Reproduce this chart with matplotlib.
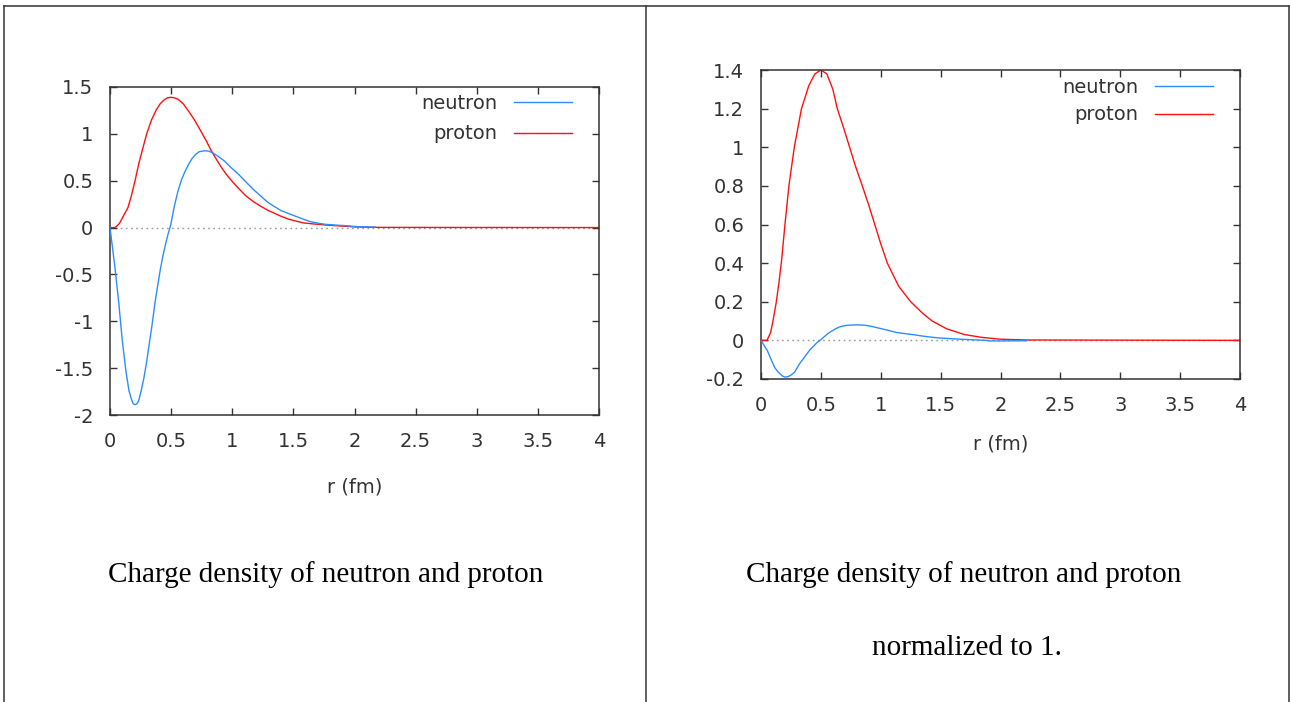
import matplotlib
matplotlib.use("Agg")
import matplotlib.pyplot as plt
from matplotlib.lines import Line2D

# ---- data ----
# left panel: charge density
r_n_left = [0, 0.04, 0.073, 0.1, 0.13, 0.155, 0.175, 0.19, 0.205, 0.22, 0.234,
            0.255, 0.278, 0.3, 0.32, 0.345, 0.366, 0.39, 0.41, 0.43, 0.454,
            0.475, 0.497, 0.525, 0.556, 0.585, 0.614, 0.645, 0.673, 0.7, 0.73,
            0.775, 0.81, 0.85, 0.89, 0.936, 0.99, 1.05, 1.11, 1.17, 1.23,
            1.29, 1.35, 1.40, 1.46, 1.52, 1.58, 1.64, 1.7, 1.76, 1.85,
            1.93, 2.02, 2.17]
rho_n_left = [0, -0.42, -0.82, -1.2, -1.53, -1.74, -1.83, -1.88, -1.89, -1.88, -1.85,
              -1.74, -1.6, -1.43, -1.25, -1.03, -0.82, -0.62, -0.46, -0.32, -0.18,
              -0.07, 0.03, 0.22, 0.39, 0.51, 0.6, 0.68, 0.74, 0.78, 0.81,
              0.82, 0.815, 0.79, 0.755, 0.71, 0.64, 0.57, 0.49, 0.41, 0.34,
              0.27, 0.22, 0.18, 0.15, 0.12, 0.09, 0.063, 0.047, 0.035, 0.026,
              0.02, 0.01, 0.005]

r_p_left = [0, 0.04, 0.06, 0.08, 0.1, 0.12, 0.146, 0.175, 0.205, 0.235, 0.263,
            0.3, 0.34, 0.38, 0.41, 0.44, 0.47, 0.497, 0.526, 0.556, 0.6,
            0.644, 0.69, 0.73, 0.755, 0.79, 0.82, 0.86, 0.907, 0.95, 0.995,
            1.05, 1.11, 1.17, 1.23, 1.29, 1.35, 1.4, 1.46, 1.52, 1.58,
            1.67, 1.76, 1.85, 1.93, 2.02, 2.22, 4.0]
rho_p_left = [0, 0.0, 0.02, 0.05, 0.1, 0.15, 0.21, 0.34, 0.5, 0.68, 0.82,
              1.0, 1.15, 1.26, 1.32, 1.36, 1.385, 1.39, 1.385, 1.37, 1.32,
              1.24, 1.15, 1.06, 1.0, 0.92, 0.84, 0.75, 0.65, 0.57, 0.5,
              0.42, 0.34, 0.28, 0.23, 0.185, 0.15, 0.12, 0.09, 0.07, 0.05,
              0.038, 0.028, 0.02, 0.013, 0.006, 0.002, 0]

# right panel: normalized to 1
r_n_right = [0, 0.054, 0.085, 0.114, 0.14, 0.16, 0.18, 0.2, 0.225, 0.25, 0.28,
             0.323, 0.35, 0.383, 0.41, 0.442, 0.47, 0.502, 0.53, 0.56, 0.59,
             0.62, 0.65, 0.68, 0.71, 0.74, 0.8, 0.86, 0.92, 0.98, 1.05,
             1.13, 1.2, 1.28, 1.35, 1.43, 1.5, 1.58, 1.67, 1.76, 1.82,
             1.88, 1.91, 2.0, 2.22]
rho_n_right = [0, -0.054, -0.1, -0.14, -0.162, -0.174, -0.185, -0.19, -0.188, -0.18, -0.165,
               -0.12, -0.098, -0.07, -0.048, -0.028, -0.01, 0.005, 0.02, 0.036, 0.048,
               0.059, 0.068, 0.074, 0.077, 0.079, 0.08, 0.079, 0.073, 0.064, 0.054,
               0.041, 0.035, 0.029, 0.022, 0.016, 0.012, 0.009, 0.006, 0.0035, 0.0015,
               0, -0.003, -0.003, -0.002]

r_p_right = [0, 0.05, 0.08, 0.1, 0.128, 0.15, 0.173, 0.2, 0.233, 0.278, 0.338,
             0.4, 0.45, 0.5, 0.55, 0.6, 0.637, 0.69, 0.74, 0.79, 0.846,
             0.9, 0.95, 1.0, 1.055, 1.15, 1.25, 1.35, 1.43, 1.55, 1.7,
             1.85, 2.0, 2.22, 4.0]
rho_p_right = [0, 0, 0.04, 0.1, 0.2, 0.3, 0.42, 0.6, 0.8, 1.0, 1.2,
               1.32, 1.38, 1.40, 1.38, 1.30, 1.2, 1.1, 1.0, 0.9, 0.8,
               0.7, 0.6, 0.5, 0.4, 0.28, 0.2, 0.14, 0.1, 0.06, 0.03,
               0.015, 0.006, 0.002, 0]

xticks = [0, 0.5, 1, 1.5, 2, 2.5, 3, 3.5, 4]
xticklabels = ["0", "0.5", "1", "1.5", "2", "2.5", "3", "3.5", "4"]
yticks_left = [-2, -1.5, -1, -0.5, 0, 0.5, 1, 1.5]
yticklabels_left = ["-2", "-1.5", "-1", "-0.5", "0", "0.5", "1", "1.5"]
yticks_right = [-0.2, 0, 0.2, 0.4, 0.6, 0.8, 1, 1.2, 1.4]
yticklabels_right = ["-0.2", "0", "0.2", "0.4", "0.6", "0.8", "1", "1.2", "1.4"]

captions_left = ["Charge density of neutron and proton"]
captions_right = ["Charge density of neutron and proton", "normalized to 1."]

BLUE = "#2b8dff"
RED = "#ff1010"
TXT = "#333333"

W, H = 1290, 702
fig = plt.figure(figsize=(W / 100, H / 100), dpi=100)


def px_box(x0, y0, x1, y1):
    return [x0 / W, 1 - y1 / H, (x1 - x0) / W, (y1 - y0) / H]


def panel(ax, rn, yn, rp, yp, yticks, yticklabels, ylim, leg_anchor, labelpad, lspace):
    ax.axhline(0, color="#999999", lw=1.0, ls=(0, (1.2, 2.5)), zorder=1)
    ax.plot(rn, yn, color=BLUE, lw=1.0, label="neutron", zorder=3)
    ax.plot(rp, yp, color=RED, lw=1.0, label="proton", zorder=2)
    ax.set_xlim(0, 4)
    ax.set_ylim(*ylim)
    ax.set_xticks(xticks)
    ax.set_xticklabels(xticklabels)
    ax.set_yticks(yticks)
    ax.set_yticklabels(yticklabels)
    ax.tick_params(direction="in", top=True, right=True, length=5, width=1.0,
                   color="#333333", labelsize=14, labelcolor=TXT, pad=12)
    for s in ax.spines.values():
        s.set_color("#333333")
        s.set_linewidth(1.1)
    ax.set_xlabel("r (fm)", fontsize=14, color=TXT, labelpad=labelpad)
    ax.legend(loc="upper right", bbox_to_anchor=leg_anchor, frameon=False,
              markerfirst=False, fontsize=14, handlelength=3.0,
              handletextpad=0.85, labelspacing=lspace, borderpad=0,
              borderaxespad=0, labelcolor=TXT)


ax1 = fig.add_axes(px_box(110, 87, 599, 415))
panel(ax1, r_n_left, rho_n_left, r_p_left, rho_p_left,
      yticks_left, yticklabels_left, (-2, 1.5), (0.945, 0.978), 19, 0.58)

ax2 = fig.add_axes(px_box(761, 70, 1240, 379))
panel(ax2, r_n_right, rho_n_right, r_p_right, rho_p_right,
      yticks_right, yticklabels_right, (-0.2, 1.4), (0.944, 0.975), 14.5, 0.45)

# table-like frame around the two cells
for (x0, y0, x1, y1) in [(4, 6, 1289, 6), (4, 6, 4, 702), (646, 6, 646, 702),
                         (1289, 6, 1289, 702)]:
    fig.add_artist(Line2D([x0 / W, x1 / W], [1 - y0 / H, 1 - y1 / H],
                          transform=fig.transFigure, color="#333333", lw=1.1))

serif = ["Liberation Serif", "DejaVu Serif"]
fig.text(326 / W, 1 - 575 / H, captions_left[0], ha="center", va="center",
         fontsize=21, family=serif, color="black")
fig.text(964 / W, 1 - 575 / H, captions_right[0], ha="center", va="center",
         fontsize=21, family=serif, color="black")
fig.text(967 / W, 1 - 648 / H, captions_right[1], ha="center", va="center",
         fontsize=21, family=serif, color="black")

fig.savefig("out.png", dpi=100)
